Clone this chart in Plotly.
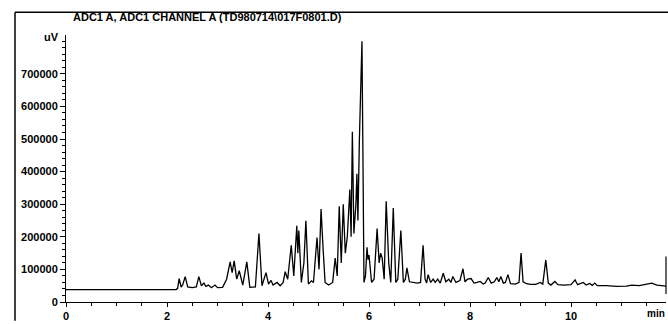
import plotly.graph_objects as go

title_text = "ADC1 A, ADC1 CHANNEL A (TD980714\\017F0801.D)"
y_unit = "uV"
x_unit = "min"

time_min = [0, 2.18, 2.21, 2.24, 2.28, 2.31, 2.36, 2.41, 2.5, 2.58, 2.63, 2.68, 2.73, 2.77, 2.82, 2.88,
            2.95, 3.0, 3.1, 3.18, 3.25, 3.29, 3.33, 3.38, 3.43, 3.5, 3.58, 3.64, 3.75, 3.82, 3.88, 3.96,
            4.01, 4.06, 4.1, 4.18, 4.24, 4.3, 4.34, 4.39, 4.46, 4.51, 4.57, 4.59, 4.61, 4.66, 4.71, 4.75,
            4.8, 4.86, 4.9, 4.97, 5.01, 5.05, 5.09, 5.13, 5.2, 5.28, 5.33, 5.37, 5.41, 5.45, 5.49, 5.53,
            5.57, 5.62, 5.645, 5.67, 5.7, 5.74, 5.76, 5.78, 5.81, 5.86, 5.9, 5.93, 5.96, 5.98, 6.0, 6.05,
            6.1, 6.16, 6.2, 6.23, 6.26, 6.3, 6.34, 6.39, 6.43, 6.48, 6.53, 6.57, 6.63, 6.68, 6.72, 6.75,
            6.8, 6.88, 6.96, 7.02, 7.07, 7.11, 7.14, 7.17, 7.22, 7.27, 7.31, 7.36, 7.41, 7.47, 7.52, 7.58,
            7.62, 7.66, 7.72, 7.8, 7.86, 7.9, 7.95, 8.02, 8.08, 8.14, 8.2, 8.26, 8.3, 8.36, 8.42, 8.48,
            8.53, 8.57, 8.61, 8.66, 8.7, 8.75, 8.8, 8.9, 8.97, 9.01, 9.05, 9.12, 9.2, 9.3, 9.39, 9.44,
            9.5, 9.55, 9.6, 9.68, 9.74, 9.85, 10.0, 10.08, 10.13, 10.24, 10.3, 10.37, 10.42, 10.47, 10.52,
            10.7, 10.9, 11.1, 11.2, 11.35, 11.5, 11.6, 11.7, 11.85, 11.93]

signal_uv = [38000, 38000, 42000, 72000, 46000, 52000, 78000, 46000, 44000, 46000, 78000, 50000, 58000, 48000, 52000, 44000,
             52000, 44000, 45000, 70000, 123000, 90000, 126000, 70000, 96000, 52000, 123000, 45000, 46000, 210000, 50000, 90000,
             55000, 66000, 52000, 60000, 50000, 60000, 93000, 70000, 174000, 80000, 234000, 150000, 219000, 60000, 120000, 249000,
             55000, 65000, 60000, 198000, 100000, 285000, 165000, 60000, 52000, 60000, 135000, 80000, 294000, 120000, 300000, 150000,
             200000, 345000, 200000, 522000, 210000, 300000, 393000, 250000, 504000, 800000, 60000, 80000, 168000, 130000, 144000, 60000,
             70000, 225000, 120000, 150000, 135000, 70000, 309000, 120000, 60000, 288000, 60000, 70000, 219000, 60000, 70000, 105000,
             62000, 60000, 58000, 60000, 174000, 70000, 58000, 84000, 60000, 70000, 60000, 70000, 58000, 88000, 62000, 70000,
             60000, 78000, 60000, 66000, 102000, 62000, 70000, 72000, 58000, 60000, 63000, 55000, 58000, 75000, 58000, 62000,
             75000, 62000, 78000, 58000, 60000, 84000, 56000, 55000, 60000, 150000, 62000, 56000, 54000, 54000, 60000, 55000,
             129000, 58000, 52000, 63000, 53000, 52000, 53000, 68000, 53000, 60000, 52000, 57000, 51000, 58000, 50000,
             50000, 48000, 49000, 52000, 50000, 55000, 58000, 52000, 50000, 48000]

x_ticks = [0, 2, 4, 6, 8, 10]
y_ticks = [0, 100000, 200000, 300000, 400000, 500000, 600000, 700000]

FONT = "Liberation Sans"

fig = go.Figure()
fig.add_trace(go.Scatter(x=time_min, y=signal_uv, mode="lines",
                         line=dict(color="black", width=1.3), hoverinfo="skip", showlegend=False))

fig.update_layout(
    width=668, height=324,
    margin=dict(l=66, r=2, t=35, b=16),
    paper_bgcolor="white", plot_bgcolor="white",
    showlegend=False,
    xaxis=dict(range=[0, 11.88], tickvals=x_ticks, ticktext=[str(v) for v in x_ticks],
               showgrid=False, zeroline=False, showline=True, linecolor="black", linewidth=1,
               ticks="outside", ticklen=4, tickcolor="black",
               minor=dict(dtick=0.5, ticks="outside", ticklen=3, tickcolor="black"),
               tickfont=dict(family=FONT, size=11, color="black", weight="bold")),
    yaxis=dict(range=[0, 819000], tickvals=y_ticks, ticktext=[str(v) for v in y_ticks],
               showgrid=False, zeroline=False, showline=True, linecolor="black", linewidth=1,
               ticks="outside", ticklen=5, tickcolor="black",
               minor=dict(dtick=20000, ticks="outside", ticklen=3, tickcolor="black"),
               tickfont=dict(family=FONT, size=11, color="black", weight="bold")),
)

fig.add_annotation(text=title_text, xref="paper", yref="paper", x=0.235, y=1.066,
                   showarrow=False, xanchor="center", yanchor="middle",
                   font=dict(family=FONT, size=11, color="black", weight="bold"))
fig.add_annotation(text=y_unit, xref="paper", yref="paper", x=-0.008, y=0.993,
                   showarrow=False, xanchor="right", yanchor="middle",
                   font=dict(family=FONT, size=11, color="black", weight="bold"))
fig.add_annotation(text=x_unit, xref="paper", yref="paper", x=1.0, y=-0.02,
                   showarrow=False, xanchor="right", yanchor="top",
                   font=dict(family=FONT, size=10, color="black", weight="bold"),
                   borderpad=0)

# printout frame
fig.add_shape(type="line", xref="paper", yref="paper", x0=-0.085, x1=1.004, y0=1.085, y1=1.085,
              line=dict(color="black", width=1.5))
fig.add_shape(type="line", xref="paper", yref="paper", x0=-0.085, x1=-0.085, y0=1.085, y1=-0.07,
              line=dict(color="black", width=1.5))
fig.add_shape(type="line", xref="paper", yref="paper", x0=1.0, x1=1.0, y0=0.17, y1=0.03,
              line=dict(color="black", width=1.2))

fig.write_html("out.html", config={"displayModeBar": False},
               post_script="document.body.style.margin='0';document.body.style.overflow='hidden';")
